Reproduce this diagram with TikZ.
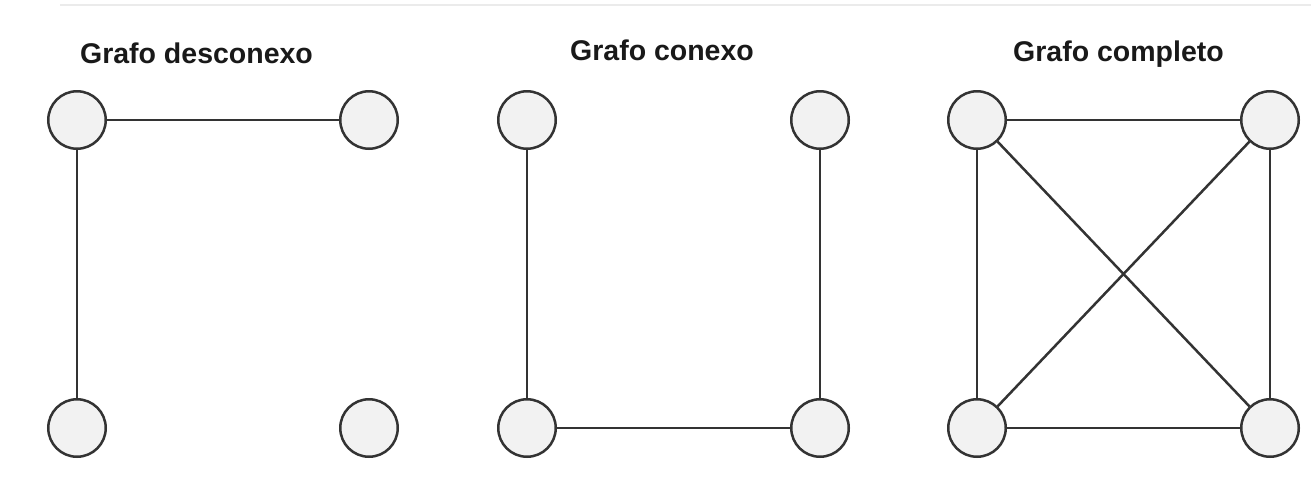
\documentclass[tikz,border=0pt]{standalone}
\usepackage{fontspec}
\setmainfont{Liberation Sans}
\definecolor{nodefill}{HTML}{F2F2F2}
\definecolor{edgegray}{HTML}{333333}
\tikzstyle{vert}=[circle, draw=edgegray, fill=nodefill, line width=2.5pt, minimum size=57.5pt, inner sep=0pt]
\tikzstyle{title}=[font=\bfseries\fontsize{28.5}{32}\selectfont, text=black!90, anchor=base, inner sep=0pt]
\tikzstyle{edge}=[draw=edgegray, line width=2.5pt]

\begin{document}
\begin{tikzpicture}[x=1pt, y=-1pt]
    \useasboundingbox (0,0) rectangle (1311,485);
    \fill[white] (0,0) rectangle (1311,485);
    \draw[black!8, line width=2pt] (60,5) -- (1311,5);
    % grafo desconexo
    \node[vert] (a1) at (77,120) {};
    \node[vert] (b1) at (369,120) {};
    \node[vert] (c1) at (77,428) {};
    \node[vert] (d1) at (369,428) {};
    \draw[edge] (a1) -- (b1);
    \draw[edge] (a1) -- (c1);
    \node[title] (t1) at (196.5,63) {Grafo desconexo};
    % grafo conexo
    \node[vert] (a2) at (527,120) {};
    \node[vert] (b2) at (820,120) {};
    \node[vert] (c2) at (527,428) {};
    \node[vert] (d2) at (820,428) {};
    \draw[edge] (a2) -- (c2);
    \draw[edge] (c2) -- (d2);
    \draw[edge] (d2) -- (b2);
    \node[title] (t2) at (662,60) {Grafo conexo};
    % grafo completo
    \node[vert] (a3) at (977,120) {};
    \node[vert] (b3) at (1270,120) {};
    \node[vert] (c3) at (977,428) {};
    \node[vert] (d3) at (1270,428) {};
    \draw[edge] (a3) -- (b3);
    \draw[edge] (a3) -- (c3);
    \draw[edge] (a3) -- (d3);
    \draw[edge] (b3) -- (c3);
    \draw[edge] (b3) -- (d3);
    \draw[edge] (c3) -- (d3);
    \node[title] (t3) at (1118.5,61) {Grafo completo};
\end{tikzpicture}
\end{document}
